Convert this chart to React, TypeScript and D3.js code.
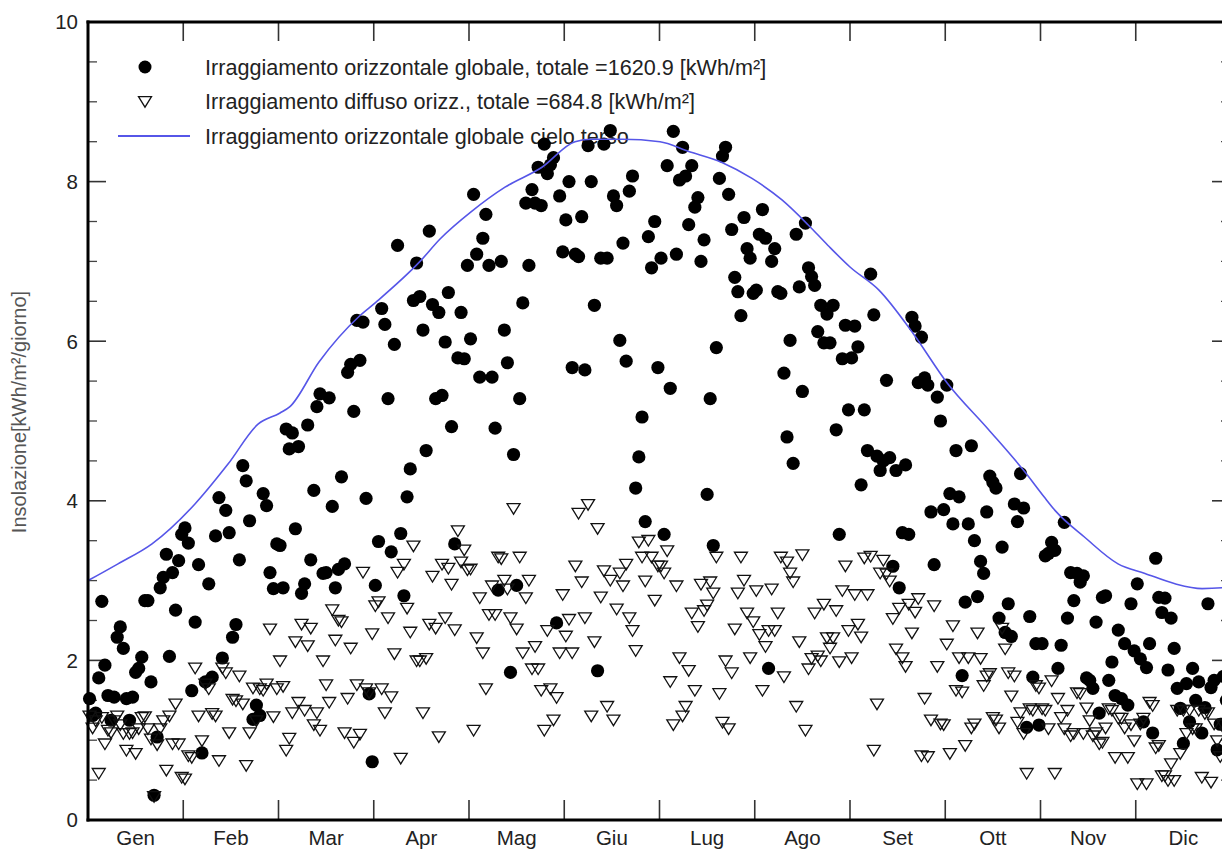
import React from "react";
import * as d3 from "d3";

const MONTHS = ["Gen", "Feb", "Mar", "Apr", "Mag", "Giu", "Lug", "Ago", "Set", "Ott", "Nov", "Dic"];
const DAYS_IN_MONTH = [31, 28, 31, 30, 31, 30, 31, 31, 30, 31, 30, 31];
const Y_TICKS = [0, 2, 4, 6, 8, 10];

// Global horizontal irradiation, daily values [kWh/m²/day]
const gJan = [1.52, 1.31, 1.34, 1.78, 2.74, 1.94, 1.56, 1.25, 1.54, 2.29, 2.42, 2.15, 1.52, 1.25, 1.54, 1.85, 1.9, 2.04, 2.75, 2.75, 1.73, 0.31, 1.04, 2.91, 3.04, 3.33, 2.05, 3.1, 2.63, 3.25, 3.58];
const gFeb = [3.66, 3.47, 1.62, 2.48, 3.2, 0.84, 1.73, 2.96, 1.79, 3.56, 4.04, 2.03, 3.88, 3.6, 2.29, 2.45, 3.26, 4.44, 4.25, 3.75, 1.26, 1.44, 1.31, 4.09, 3.94, 3.1, 2.9, 3.46];
const gMar = [3.44, 2.91, 4.9, 4.65, 4.85, 3.65, 4.68, 2.84, 2.96, 4.95, 3.26, 4.13, 5.18, 5.34, 3.09, 3.1, 5.29, 3.93, 2.91, 3.14, 4.3, 3.21, 5.61, 5.71, 5.12, 6.26, 5.76, 6.24, 4.03, 1.58, 0.73];
const gApr = [2.94, 3.49, 6.41, 6.21, 5.28, 3.36, 5.96, 7.2, 3.59, 2.81, 4.05, 4.4, 6.51, 6.98, 6.56, 6.14, 4.63, 7.38, 6.46, 5.28, 6.36, 5.32, 5.99, 6.61, 4.93, 3.46, 5.79, 6.36, 5.78, 6.95];
const gMay = [6.03, 7.84, 7.09, 5.55, 7.29, 7.59, 6.95, 5.55, 4.91, 2.88, 7.0, 6.14, 5.73, 1.85, 4.58, 2.94, 5.28, 6.48, 7.73, 6.95, 7.9, 7.73, 8.18, 7.7, 8.47, 8.1, 8.21, 8.3, 2.47, 7.82, 7.12];
const gJun = [7.52, 8.0, 5.67, 7.09, 7.06, 7.56, 5.64, 8.45, 8.0, 6.45, 1.87, 7.04, 8.47, 7.04, 8.64, 7.82, 7.7, 6.01, 7.23, 5.75, 7.88, 8.07, 4.16, 4.55, 5.05, 3.74, 7.31, 6.92, 7.5, 5.67];
const gJul = [7.04, 3.58, 8.2, 5.41, 8.63, 7.09, 8.02, 8.43, 8.07, 7.46, 8.2, 7.68, 7.8, 7.0, 7.27, 4.08, 5.28, 3.44, 5.92, 8.04, 8.32, 8.43, 7.84, 7.4, 6.8, 6.62, 6.32, 7.55, 7.16, 7.04, 6.6];
const gAug = [6.64, 7.34, 7.65, 7.29, 1.9, 7.0, 7.16, 6.62, 6.6, 5.6, 4.8, 6.01, 4.47, 7.34, 6.68, 5.37, 7.48, 6.92, 6.81, 6.7, 6.12, 6.45, 5.98, 6.34, 5.98, 6.45, 4.89, 3.58, 5.78, 6.2, 5.14];
const gSep = [5.79, 6.19, 5.93, 4.2, 5.14, 4.63, 6.84, 6.33, 4.56, 4.38, 4.5, 5.51, 4.54, 3.18, 4.38, 2.91, 3.6, 4.45, 3.58, 6.3, 6.19, 5.48, 6.05, 5.54, 5.45, 3.86, 3.2, 5.3, 5.0, 3.89];
const gOct = [5.45, 4.09, 3.71, 4.63, 4.05, 1.81, 2.73, 3.71, 4.69, 3.5, 2.8, 3.24, 3.09, 3.86, 4.31, 4.23, 4.16, 2.53, 3.42, 2.35, 2.71, 2.3, 3.96, 3.74, 4.34, 3.91, 1.16, 2.55, 1.79, 2.21, 1.19];
const gNov = [2.21, 3.31, 3.34, 3.48, 3.38, 1.9, 2.19, 3.73, 2.53, 3.1, 2.75, 3.09, 2.98, 3.06, 1.78, 1.75, 1.65, 2.48, 1.34, 2.79, 2.81, 1.75, 1.98, 1.56, 2.38, 1.52, 2.21, 1.44, 2.71, 2.12];
const gDec = [2.96, 2.02, 1.23, 1.91, 2.21, 1.09, 3.28, 2.79, 2.6, 2.78, 1.88, 2.53, 2.15, 1.65, 1.4, 0.96, 1.71, 1.23, 1.9, 1.5, 1.73, 1.09, 1.41, 2.71, 1.66, 1.75, 0.88, 1.2, 1.8, 1.5, 2.0];

// Diffuse horizontal irradiation, daily values [kWh/m²/day]
const dJan = [1.31, 1.16, 1.25, 0.59, 1.29, 0.96, 1.13, 1.1, 1.25, 1.31, 1.2, 1.09, 0.88, 1.09, 1.1, 0.84, 1.15, 1.29, 1.3, 1.15, 1.02, 0.3, 0.95, 1.15, 1.25, 0.63, 1.31, 0.96, 1.46, 0.96, 0.54];
const dFeb = [0.52, 0.81, 0.79, 1.91, 1.31, 1.0, 1.71, 1.65, 1.34, 1.31, 0.75, 1.91, 1.85, 1.1, 1.52, 1.5, 1.81, 1.46, 0.69, 1.1, 1.66, 1.25, 1.65, 1.63, 1.71, 2.4, 1.3, 1.65];
const dMar = [2.0, 1.68, 0.88, 1.03, 1.35, 2.24, 1.48, 2.46, 1.38, 2.19, 2.41, 1.2, 1.35, 1.13, 2.0, 1.7, 1.48, 2.64, 2.26, 2.51, 2.49, 1.1, 1.53, 2.16, 0.98, 1.7, 1.08, 3.11, 1.65, 1.6, 2.34];
const dApr = [2.69, 2.74, 1.65, 1.35, 2.54, 1.55, 2.09, 3.11, 0.78, 3.21, 2.66, 2.36, 3.44, 2.0, 2.0, 1.35, 2.03, 2.46, 3.06, 2.41, 1.05, 3.21, 2.54, 3.16, 2.96, 2.39, 3.63, 3.24, 3.39, 3.14];
const dMay = [3.15, 1.13, 2.29, 2.79, 2.1, 1.65, 2.58, 2.94, 2.58, 3.3, 3.28, 3.01, 2.9, 2.54, 3.91, 2.4, 3.3, 2.1, 2.79, 3.01, 1.9, 2.18, 1.9, 1.63, 1.13, 2.38, 1.65, 1.26, 1.54, 2.1, 2.83];
const dJun = [2.31, 2.52, 2.1, 3.19, 3.85, 2.99, 2.54, 3.96, 1.31, 2.24, 3.66, 2.8, 3.13, 1.43, 3.01, 1.26, 2.65, 3.1, 2.94, 3.21, 2.54, 2.38, 2.13, 3.49, 3.3, 3.0, 3.51, 3.3, 2.76, 3.19];
const dJul = [3.19, 3.1, 3.38, 1.74, 1.2, 2.94, 2.04, 1.31, 1.43, 1.88, 2.6, 1.63, 2.43, 2.96, 2.63, 2.7, 2.99, 2.85, 3.3, 1.59, 1.23, 2.0, 1.15, 1.85, 2.4, 2.85, 3.3, 3.01, 2.6, 2.04, 2.49];
const dAug = [2.88, 2.33, 1.63, 2.18, 2.38, 2.9, 2.38, 2.6, 3.3, 1.8, 3.24, 3.1, 2.99, 1.43, 2.24, 3.33, 1.13, 1.9, 2.03, 2.6, 2.06, 2.0, 2.71, 2.29, 2.16, 2.29, 2.63, 1.99, 2.88, 3.19, 2.38];
const dSep = [2.04, 2.83, 2.46, 2.3, 3.29, 2.83, 3.31, 0.88, 1.46, 3.1, 3.26, 3.09, 3.0, 2.53, 2.15, 2.66, 2.04, 1.93, 2.71, 2.35, 2.61, 2.78, 0.81, 1.53, 0.8, 1.26, 2.69, 1.93, 1.21, 1.2];
const dOct = [2.21, 0.84, 2.44, 1.63, 2.04, 1.61, 0.94, 2.04, 1.16, 1.21, 2.35, 2.03, 1.69, 1.81, 1.84, 1.29, 1.26, 1.16, 2.41, 2.15, 1.85, 1.56, 1.81, 1.23, 1.35, 1.09, 0.59, 1.4, 1.38, 1.69, 1.66];
const dNov = [1.4, 1.38, 1.15, 1.75, 0.59, 1.53, 1.29, 1.15, 1.38, 1.06, 1.09, 1.6, 1.59, 1.09, 1.41, 1.25, 1.06, 1.1, 0.96, 0.98, 1.16, 1.4, 1.38, 0.79, 1.28, 1.28, 1.16, 0.79, 1.2, 1.0];
const dDec = [0.46, 1.21, 1.28, 0.46, 1.48, 1.44, 0.91, 0.94, 0.56, 0.56, 0.5, 0.71, 0.5, 1.38, 0.84, 1.38, 1.09, 1.38, 1.15, 1.15, 1.38, 0.54, 1.34, 1.35, 0.48, 1.21, 1.0, 0.8, 1.2, 1.1, 1.0];

// Clear-sky global horizontal irradiation (position in months from 1 Jan, value)
const clearSkyPos = [0, 0.315, 0.672, 1.123, 1.47, 1.785, 2.016, 2.12, 2.425, 2.845, 3.024, 3.486, 3.696, 4.031, 4.378, 4.766, 5.113, 5.291, 5.606, 6.005, 6.299, 6.656, 6.971, 7.286, 7.559, 7.769, 8.0, 8.304, 8.661, 9.018, 9.449, 9.837, 10.037, 10.152, 10.467, 10.814, 11.097, 11.412, 11.696, 11.906, 12.0];
const clearSkyVal = [3.0, 3.21, 3.46, 3.96, 4.46, 4.96, 5.1, 5.18, 5.74, 6.31, 6.49, 7.0, 7.28, 7.63, 7.93, 8.18, 8.5, 8.53, 8.53, 8.5, 8.38, 8.24, 8.04, 7.77, 7.46, 7.2, 6.93, 6.64, 6.1, 5.48, 4.9, 4.36, 4.05, 3.88, 3.54, 3.21, 3.09, 2.96, 2.9, 2.91, 2.95];

const LEGEND_LABELS = [
  "Irraggiamento orizzontale globale, totale =1620.9 [kWh/m²]",
  "Irraggiamento diffuso orizz., totale =684.8 [kWh/m²]",
  "Irraggiamento orizzontale globale cielo terso",
];
const Y_LABEL = "Insolazione[kWh/m²/giorno]";

const globalMonths = [gJan, gFeb, gMar, gApr, gMay, gJun, gJul, gAug, gSep, gOct, gNov, gDec];
const diffuseMonths = [dJan, dFeb, dMar, dApr, dMay, dJun, dJul, dAug, dSep, dOct, dNov, dDec];

function toPoints(months: number[][]) {
  const pts: { t: number; v: number }[] = [];
  months.forEach((vals, m) => {
    const n = DAYS_IN_MONTH[m];
    vals.forEach((v, i) => pts.push({ t: m + (i + 0.5) / n, v }));
  });
  return pts;
}

const W = 1222;
const H = 850;
const X0 = 88;
const X1 = 1231;
const Y0 = 820;
const Y1 = 22;
const FONT = "'Liberation Sans', Arial, Helvetica, sans-serif";
const BLUE = "#5656e8";

export default function App() {
  const x = d3.scaleLinear().domain([0, 12]).range([X0, X1]);
  const y = d3.scaleLinear().domain([0, 10]).range([Y0, Y1]);

  const globalPts = toPoints(globalMonths);
  const diffusePts = toPoints(diffuseMonths);
  const clearPts = clearSkyPos.map((p, i) => ({ t: p, v: clearSkyVal[i] }));

  const line = d3
    .line<{ t: number; v: number }>()
    .x((d) => x(d.t))
    .y((d) => y(d.v))
    .curve(d3.curveMonotoneX);

  const minorY = d3.range(1, 20).map((k) => k * 0.5).filter((v) => v % 2 !== 0);
  const monthBounds = d3.range(1, 12);

  const tri = (cx: number, cy: number) =>
    `M${cx - 6.5},${cy - 4.4} L${cx + 6.5},${cy - 4.4} L${cx},${cy + 6.2} Z`;

  return (
    <svg
      width={W}
      height={H}
      style={{ position: "absolute", left: 0, top: 0, background: "#fff" }}
      fontFamily={FONT}
    >
      <rect x={0} y={0} width={W} height={H} fill="#fff" />

      {/* minor / major y ticks, left and right */}
      {minorY.map((v) => (
        <g key={"my" + v} stroke="#444" strokeWidth={1.3}>
          <line x1={X0} x2={X0 + 9} y1={y(v)} y2={y(v)} />
          <line x1={X1} x2={X1 - 10} y1={y(v)} y2={y(v)} />
        </g>
      ))}
      {Y_TICKS.map((v) => (
        <g key={"My" + v} stroke="#333" strokeWidth={1.6}>
          <line x1={X0} x2={X0 + 18} y1={y(v)} y2={y(v)} />
          <line x1={X1} x2={X1 - 19} y1={y(v)} y2={y(v)} />
        </g>
      ))}
      {/* month boundary ticks */}
      {monthBounds.map((m) => (
        <g key={"mx" + m} stroke="#333" strokeWidth={1.6}>
          <line x1={x(m)} x2={x(m)} y1={Y0} y2={Y0 - 20} />
          <line x1={x(m)} x2={x(m)} y1={Y1} y2={Y1 + 19} />
        </g>
      ))}

      {/* legend */}
      <circle cx={145} cy={67} r={6.5} fill="#000" />
      <path d={tri(145, 101)} fill="none" stroke="#111" strokeWidth={1.3} />
      <line x1={118} x2={190} y1={136} y2={136} stroke={BLUE} strokeWidth={2} />
      {LEGEND_LABELS.map((t, i) => (
        <text key={t} x={205} y={74.5 + i * 34.5} fontSize={21.6} fill="#222">
          {t}
        </text>
      ))}

      {/* global dots */}
      {globalPts.map((p, i) => (
        <circle key={"g" + i} cx={x(p.t)} cy={y(p.v)} r={6.6} fill="#000" />
      ))}
      {/* diffuse triangles */}
      {diffusePts.map((p, i) => (
        <path key={"d" + i} d={tri(x(p.t), y(p.v))} fill="none" stroke="#111" strokeWidth={1.3} />
      ))}
      {/* clear sky line */}
      <path d={line(clearPts) || ""} fill="none" stroke={BLUE} strokeWidth={1.6} />

      {/* frame */}
      <line x1={X0} x2={X0} y1={Y1 - 1.5} y2={Y0 + 1.5} stroke="#000" strokeWidth={3} />
      <line x1={X0 - 1.5} x2={X1} y1={Y1} y2={Y1} stroke="#000" strokeWidth={3} />
      <line x1={X0 - 1.5} x2={X1} y1={Y0} y2={Y0} stroke="#000" strokeWidth={3} />
      <line x1={X1} x2={X1} y1={Y1} y2={Y0} stroke="#000" strokeWidth={3} />

      {/* y tick labels */}
      {Y_TICKS.map((v) => (
        <text key={"yl" + v} x={78} y={y(v)} dy="0.36em" textAnchor="end" fontSize={20.5} fill="#222">
          {v}
        </text>
      ))}
      {/* month labels */}
      {MONTHS.map((m, i) => (
        <text key={m} x={x(i + 0.5)} y={845} textAnchor="middle" fontSize={20.5} fill="#222">
          {m}
        </text>
      ))}
      {/* y axis title */}
      <text
        transform={`translate(26,${412}) rotate(-90)`}
        textAnchor="middle"
        fontSize={20}
        fill="#555"
      >
        {Y_LABEL}
      </text>
    </svg>
  );
}
